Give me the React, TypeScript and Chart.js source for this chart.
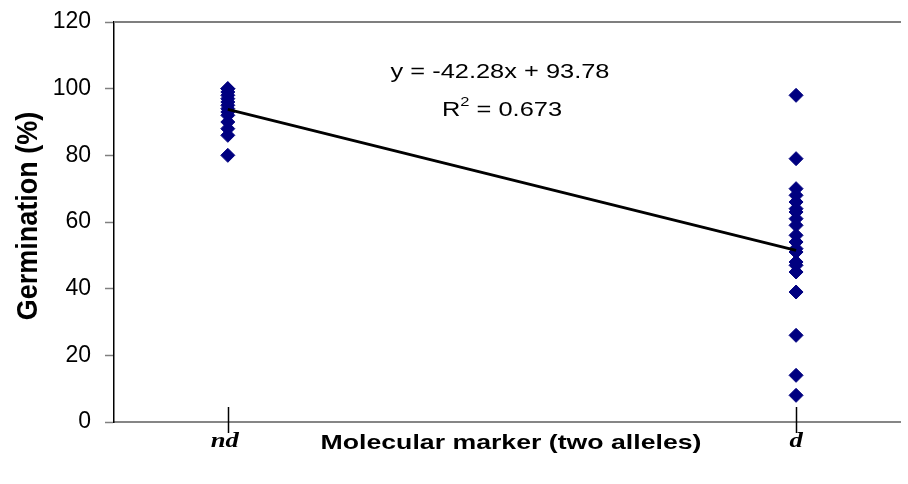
import React, { useEffect, useRef } from "react";
import { Chart, registerables } from "chart.js";

Chart.register(...registerables);

// ---- data ----
const categories = ["nd", "d"];
const categoryX = [0, 1];
const ndValues = [100, 100, 99, 98, 97, 96, 95, 94, 93, 92, 90, 88, 86, 80];
const dValues = [98, 79, 70, 68, 66, 64, 63, 61, 59, 56, 54, 52, 51, 48, 47, 45, 39, 26, 14, 8];
const trendSlope = -42.28;
const trendIntercept = 93.78;
const rSquared = 0.673;
const yTicks = [0, 20, 40, 60, 80, 100, 120];
const xTitle = "Molecular marker (two alleles)";
const yTitle = "Germination (%)";

const SX = 1.27; // horizontal stretch of the reference's text

function stretchedText(ctx: CanvasRenderingContext2D, text: string, x: number, y: number, font: string) {
  ctx.save();
  ctx.translate(x, y);
  ctx.scale(SX, 1);
  ctx.font = font;
  ctx.textAlign = "center";
  ctx.textBaseline = "middle";
  ctx.fillStyle = "#000";
  ctx.fillText(text, 0, 0);
  ctx.restore();
}

const overlay = {
  id: "overlay",
  afterDraw(chart: any) {
    const { ctx, chartArea: a, scales } = chart;
    const xs = scales.x;
    ctx.save();
    // top frame line
    ctx.fillStyle = "#7f7f7f";
    ctx.fillRect(a.left, a.top - 1, a.right - a.left, 2);
    // category tick marks crossing the x axis
    ctx.strokeStyle = "#000";
    ctx.lineWidth = 1.5;
    categoryX.forEach((v) => {
      const px = Math.round(xs.getPixelForValue(v)) + 0.5;
      ctx.beginPath();
      ctx.moveTo(px, a.bottom - 15);
      ctx.lineTo(px, a.bottom + 11);
      ctx.stroke();
    });
    // category labels
    categoryX.forEach((v, i) => {
      const px = xs.getPixelForValue(v);
      stretchedText(ctx, categories[i], px - (i === 0 ? 3 : 0), a.bottom + 20, "italic bold 21px 'Liberation Serif', 'Times New Roman', serif");
    });
    // x title
    stretchedText(ctx, xTitle, (a.left + a.right) / 2 + 4, a.bottom + 21, "bold 21px 'Liberation Sans', Arial, sans-serif");
    // y title (rotated)
    ctx.save();
    ctx.translate(29, (a.top + a.bottom) / 2 - 6);
    ctx.rotate(-Math.PI / 2);
    ctx.scale(1, 1.12);
    ctx.font = "bold 27px 'Liberation Sans', Arial, sans-serif";
    ctx.textAlign = "center";
    ctx.textBaseline = "middle";
    ctx.fillStyle = "#000";
    ctx.fillText(yTitle, 0, 0);
    ctx.restore();
    // trendline equation
    const eq = `y = ${trendSlope.toFixed(2)}x + ${trendIntercept.toFixed(2)}`;
    const mainFont = "20px 'Liberation Sans', Arial, sans-serif";
    const supFont = "13px 'Liberation Sans', Arial, sans-serif";
    stretchedText(ctx, eq, 500, 72, mainFont);
    // R^2 line
    ctx.save();
    ctx.translate(502, 110);
    ctx.scale(SX, 1);
    ctx.fillStyle = "#000";
    ctx.textBaseline = "middle";
    ctx.textAlign = "left";
    ctx.font = mainFont;
    const p1 = "R";
    const p3 = ` = ${rSquared.toFixed(3)}`;
    const w1 = ctx.measureText(p1).width;
    const w3 = ctx.measureText(p3).width;
    ctx.font = supFont;
    const w2 = ctx.measureText("2").width;
    const x0 = -(w1 + w2 + w3) / 2;
    ctx.font = mainFont;
    ctx.fillText(p1, x0, 0);
    ctx.font = supFont;
    ctx.fillText("2", x0 + w1, -8);
    ctx.font = mainFont;
    ctx.fillText(p3, x0 + w1 + w2, 0);
    ctx.restore();
    ctx.restore();
  },
};

export default function App() {
  const ref = useRef<HTMLCanvasElement | null>(null);
  useEffect(() => {
    document.body.style.margin = "0";
    const canvas = ref.current;
    if (!canvas) return;
    const chart = new Chart(canvas, {
      type: "scatter",
      data: {
        datasets: [
          {
            type: "line",
            label: "Trend",
            data: categoryX.map((x) => ({ x, y: trendIntercept + trendSlope * x })),
            borderColor: "#000",
            borderWidth: 3,
            pointRadius: 0,
            fill: false,
          } as any,
          {
            label: "Germination",
            data: [
              ...ndValues.map((y) => ({ x: categoryX[0], y })),
              ...dValues.map((y) => ({ x: categoryX[1], y })),
            ],
            pointStyle: "rectRot",
            pointRadius: 7,
            backgroundColor: "#000080",
            borderColor: "#000080",
            borderWidth: 1,
          },
        ],
      },
      options: {
        animation: false,
        responsive: false,
        devicePixelRatio: 1,
        layout: { padding: { top: 22, right: 0, bottom: 0, left: 0 } },
        plugins: {
          legend: { display: false },
          tooltip: { enabled: false },
        },
        scales: {
          x: {
            type: "linear",
            min: -0.2003,
            max: 1.1829,
            ticks: { display: false },
            grid: { display: false },
            border: { display: true, color: "#868686", width: 2 },
            afterFit: (s: any) => {
              s.height = 62;
              s.paddingLeft = 0;
              s.paddingRight = 0;
            },
          },
          xTop: {
            type: "linear",
            position: "top",
            min: -0.2003,
            max: 1.1829,
            ticks: { display: false },
            grid: { display: false },
            border: { display: true, color: "#808080", width: 2 },
            afterFit: (s: any) => {
              s.height = 0;
              s.paddingLeft = 0;
              s.paddingRight = 0;
            },
          },
          y: {
            type: "linear",
            min: 0,
            max: 120,
            afterBuildTicks: (s: any) => {
              s.ticks = yTicks.map((value) => ({ value }));
            },
            ticks: {
              color: "#000",
              padding: 14,
              font: { family: "'Liberation Sans', Arial, sans-serif", size: 23 },
            },
            grid: {
              drawOnChartArea: false,
              drawTicks: true,
              tickLength: 9,
              color: "#808080",
              tickColor: "#808080",
              tickWidth: 1.5,
            },
            border: { display: true, color: "#000", width: 1.5 },
            afterFit: (s: any) => {
              s.width = 114;
              s.paddingTop = 0;
              s.paddingBottom = 0;
            },
          },
        },
      },
      plugins: [overlay],
    });
    return () => chart.destroy();
  }, []);
  return (
    <div style={{ width: 908, height: 484 }}>
      <canvas ref={ref} width={908} height={484} style={{ display: "block" }} />
    </div>
  );
}
